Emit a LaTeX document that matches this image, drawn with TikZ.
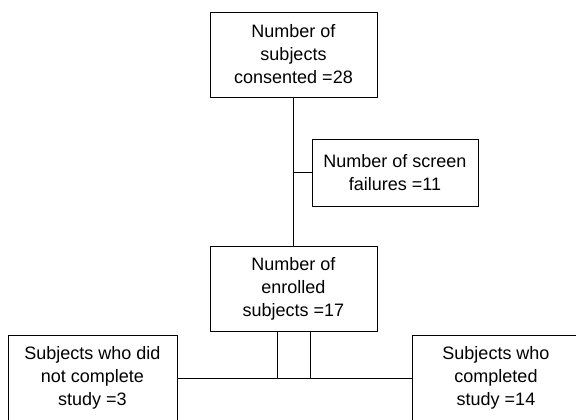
\documentclass[tikz,border=0pt]{standalone}
\usepackage{fontspec}
\setmainfont{Liberation Sans}
\usetikzlibrary{positioning,calc}

\begin{document}
\begin{tikzpicture}[x=1pt,y=1pt,line width=0.9pt,box/.style={draw,align=center,inner sep=0pt,font=\fontsize{18}{23}\selectfont},wire/.style={draw}]
\useasboundingbox (0,0) rectangle (576,-420);
\clip (0,0) rectangle (576,-420);
\node[box,minimum width=167pt,minimum height=85pt] (consent) at (293.5,-54.5) {Number of\\subjects\\consented =28};
\node[box,minimum width=166pt,minimum height=67pt] (screen) at (395,-172.5) {Number of screen\\failures =11};
\node[box,minimum width=167pt,minimum height=85pt] (enrol) at (293.5,-288.5) {Number of\\enrolled\\subjects =17};
\node[box,minimum width=169pt,minimum height=86pt] (notdone) at (92.5,-378) {Subjects who did\\not complete\\study =3};
\node[box,minimum width=168pt,minimum height=86pt] (done) at (496,-378) {Subjects who\\completed\\study =14};
\coordinate (tap) at (consent.south |- screen.west);
\draw (consent) -- (enrol); \draw (tap) -- (screen);
\draw (notdone) -- (done);
\draw ([xshift=-16.5pt]enrol.south) -- ([xshift=-16.5pt]enrol.south |- notdone.east);
\draw ([xshift=16.5pt]enrol.south) -- ([xshift=16.5pt]enrol.south |- notdone.east);
\end{tikzpicture}
\end{document}
